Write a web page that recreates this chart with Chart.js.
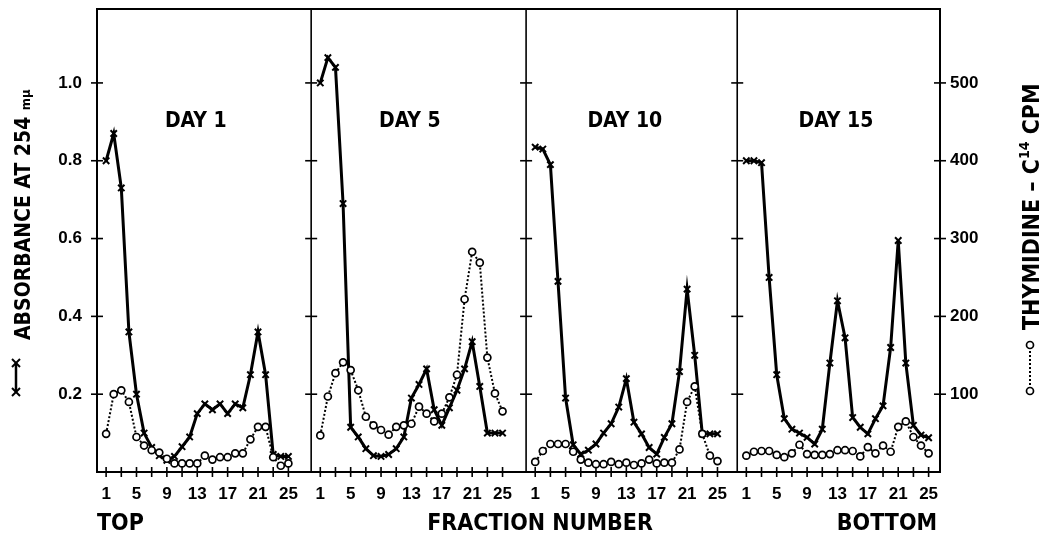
<!DOCTYPE html>
<html>
<head>
<meta charset="utf-8">
<script src="https://cdn.jsdelivr.net/npm/chart.js@4.4.0/dist/chart.umd.min.js"></script>
<style>
  html, body { margin: 0; padding: 0; background: #fff; }
  #graph { display: block; }
</style>
</head>
<body>
<canvas id="graph" width="1043" height="535"></canvas>
<script>
// fraction numbers (top -> bottom of the gradient)
const fractions = [1, 2, 3, 4, 5, 6, 7, 8, 9, 10, 11, 12, 13, 14, 15, 16, 17, 18, 19, 20, 21, 22, 23, 24, 25];
const dayLabels = ["DAY 1", "DAY 5", "DAY 10", "DAY 15"];

// absorbance at 254 mu (x---x)
const absDay1 = [0.80, 0.87, 0.73, 0.36, 0.20, 0.10, 0.063, 0.042, 0.03, 0.04, 0.065, 0.09, 0.15, 0.175, 0.16, 0.175, 0.15, 0.175, 0.165, 0.25, 0.36, 0.25, 0.045, 0.04, 0.04];
const absDay5 = [1.00, 1.065, 1.04, 0.69, 0.115, 0.09, 0.06, 0.042, 0.04, 0.045, 0.06, 0.09, 0.19, 0.225, 0.265, 0.16, 0.12, 0.165, 0.21, 0.265, 0.335, 0.22, 0.10, 0.10, 0.10];
const absDay10 = [0.835, 0.83, 0.79, 0.49, 0.19, 0.07, 0.046, 0.056, 0.072, 0.10, 0.124, 0.167, 0.24, 0.128, 0.098, 0.063, 0.046, 0.089, 0.124, 0.258, 0.47, 0.30, 0.098, 0.098, 0.098];
const absDay15 = [0.80, 0.80, 0.795, 0.50, 0.25, 0.137, 0.11, 0.10, 0.089, 0.072, 0.11, 0.28, 0.44, 0.345, 0.14, 0.115, 0.098, 0.137, 0.17, 0.32, 0.595, 0.28, 0.12, 0.095, 0.088];

// thymidine-C14 counts per minute (o....o)
const cpmDay1 = [49, 100, 105, 90, 45, 34, 28, 25, 17, 11, 11, 11, 11, 21, 16, 19, 19, 24, 24, 42, 58, 58, 19, 8, 11];
const cpmDay5 = [47, 97, 127, 141, 131, 105, 71, 60, 54, 48, 58, 60, 62, 84, 75, 65, 75, 96, 125, 222, 283, 269, 147, 101, 78];
const cpmDay10 = [13, 27, 36, 36, 36, 26, 16, 12, 10, 10, 13, 10, 12, 9, 11, 16, 11, 12, 12, 29, 90, 110, 49, 21, 14];
const cpmDay15 = [21, 26, 27, 27, 22, 19, 24, 35, 23, 22, 22, 23, 28, 28, 27, 20, 32, 24, 34, 26, 58, 65, 45, 34, 24];

// axis ticks
const absTicks = [0.2, 0.4, 0.6, 0.8, 1.0];
const cpmTicks = [100, 200, 300, 400, 500];
const fractionTickLabels = [1, 5, 9, 13, 17, 21, 25];

// each panel gets its own stretch of one shared x scale
const panelStart = [0, 28.2, 56.5, 84.3];
const panelEnd = 111;
const fracOffset = 0.2;

const letterFont = '"Liberation Sans Narrow", "DejaVu Sans Condensed", sans-serif';
const numberFont = '"Liberation Sans", "DejaVu Sans", sans-serif';

const absSeries = [absDay1, absDay5, absDay10, absDay15];
const cpmSeries = [cpmDay1, cpmDay5, cpmDay10, cpmDay15];

const datasets = [];
cpmSeries.forEach((vals, p) => {
  datasets.push({
    label: "Thymidine-C14 CPM " + dayLabels[p],
    yAxisID: "y2",
    data: fractions.map((f, i) => ({ x: panelStart[p] + f + fracOffset, y: vals[i] })),
    borderColor: "#000",
    borderWidth: 2,
    borderDash: [2, 2],
    pointStyle: "circle",
    pointRadius: 3.5,
    pointBackgroundColor: "#fff",
    pointBorderColor: "#000",
    pointBorderWidth: 1.7,
    tension: 0
  });
});
absSeries.forEach((vals, p) => {
  datasets.push({
    label: "Absorbance " + dayLabels[p],
    yAxisID: "y",
    data: fractions.map((f, i) => ({ x: panelStart[p] + f + fracOffset, y: vals[i] })),
    borderColor: "#000",
    borderWidth: 3,
    pointStyle: "crossRot",
    pointRadius: 4.5,
    pointBorderColor: "#000",
    pointBorderWidth: 2,
    tension: 0
  });
});

function line(ctx, x1, y1, x2, y2) {
  ctx.beginPath();
  ctx.moveTo(x1, y1);
  ctx.lineTo(x2, y2);
  ctx.stroke();
}

// draws text runs along an upward reading line starting at (x, y)
function upwardText(ctx, runs, x, y) {
  ctx.save();
  ctx.translate(x, y);
  ctx.rotate(-Math.PI / 2);
  ctx.textAlign = "left";
  ctx.textBaseline = "alphabetic";
  let pos = 0;
  runs.forEach(r => {
    ctx.font = r.font;
    ctx.fillText(r.text, pos, r.dy || 0);
    pos += ctx.measureText(r.text).width;
  });
  ctx.restore();
}

// axis fit: fixed widths, no extra label padding at the ends
function fixWidth(w) {
  return scale => {
    scale.width = w;
    scale.paddingTop = 0;
    scale.paddingBottom = 0;
  };
}

const paperPlugin = {
  id: "paper",
  afterDraw(chart) {
    const ctx = chart.ctx;
    const area = chart.chartArea;
    const xs = chart.scales.x;
    const ys = chart.scales.y;
    ctx.save();
    ctx.strokeStyle = "#000";
    ctx.fillStyle = "#000";

    // frame and panel dividers
    ctx.lineWidth = 2;
    ctx.strokeRect(area.left, area.top, area.right - area.left, area.bottom - area.top);
    const edges = panelStart.slice(1).map(v => xs.getPixelForValue(v));
    ctx.lineWidth = 1.6;
    edges.forEach(px => line(ctx, px, area.top, px, area.bottom));

    // tick marks crossing the frame
    const tickXs = [area.left, ...edges, area.right];
    absTicks.forEach(v => {
      const py = ys.getPixelForValue(v);
      tickXs.forEach(px => line(ctx, px - 6, py, px + 6, py));
    });
    xs.ticks.forEach(t => {
      const px = xs.getPixelForValue(t.value);
      line(ctx, px, area.bottom - 5, px, area.bottom + 5);
    });

    // day labels
    ctx.font = "bold 21px " + letterFont;
    ctx.textAlign = "center";
    ctx.textBaseline = "middle";
    dayLabels.forEach((d, p) => {
      ctx.fillText(d, xs.getPixelForValue(panelStart[p] + 13), ys.getPixelForValue(0.9));
    });

    // bottom captions
    ctx.font = "bold 23px " + letterFont;
    ctx.textBaseline = "alphabetic";
    ctx.textAlign = "left";
    ctx.fillText("TOP", area.left, 530);
    ctx.textAlign = "center";
    ctx.fillText("FRACTION NUMBER", 540, 530);
    ctx.fillText("BOTTOM", 887, 530);

    // left axis title with its symbol
    const big = "bold 21px " + letterFont;
    upwardText(ctx, [
      { text: "ABSORBANCE AT 254 ", font: big },
      { text: "m\u03bc", font: "bold 13px " + letterFont }
    ], 30, 340);
    ctx.lineWidth = 2.5;
    line(ctx, 16, 363, 16, 392);
    ctx.lineWidth = 2;
    [363, 392].forEach(py => {
      line(ctx, 12, py - 4, 20, py + 4);
      line(ctx, 12, py + 4, 20, py - 4);
    });

    // right axis title with its symbol
    const bigRight = "bold 23px " + letterFont;
    upwardText(ctx, [
      { text: "THYMIDINE \u2013 C", font: bigRight },
      { text: "14", font: "bold 14px " + letterFont, dy: -10 },
      { text: " CPM", font: bigRight }
    ], 1039, 330);
    ctx.lineWidth = 2;
    ctx.setLineDash([2, 2]);
    line(ctx, 1030, 347, 1030, 389);
    ctx.setLineDash([]);
    ctx.lineWidth = 1.7;
    [345, 391].forEach(py => {
      ctx.beginPath();
      ctx.arc(1030, py, 3.5, 0, Math.PI * 2);
      ctx.fillStyle = "#fff";
      ctx.fill();
      ctx.stroke();
    });
    ctx.restore();
  }
};

const ctx = document.getElementById("graph").getContext("2d");
const chart = new Chart(ctx, {
  type: "line",
  data: { datasets: datasets },
  options: {
    responsive: false,
    animation: false,
    layout: { padding: { top: 9, left: 0, right: 0, bottom: 0 } },
    plugins: {
      legend: { display: false },
      tooltip: { enabled: false }
    },
    scales: {
      x: {
        type: "linear",
        min: 0,
        max: panelEnd,
        grid: { display: false, drawTicks: false },
        border: { display: false },
        afterBuildTicks: scale => {
          const t = [];
          panelStart.forEach(p0 => {
            fractions.filter(f => f % 2 === 1).forEach(f => t.push({ value: p0 + f + fracOffset }));
          });
          scale.ticks = t;
        },
        ticks: {
          autoSkip: false,
          maxRotation: 0,
          padding: 12,
          color: "#000",
          font: { family: numberFont, size: 17, weight: "bold" },
          callback: (value, index) => {
            const f = 1 + 2 * (index % 13);
            return fractionTickLabels.includes(f) ? String(f) : "";
          }
        },
        afterFit: scale => { scale.height = 63; }
      },
      y: {
        position: "left",
        min: 0,
        max: 1.19,
        grid: { display: false, drawTicks: false },
        border: { display: false },
        afterBuildTicks: scale => { scale.ticks = absTicks.map(v => ({ value: v })); },
        ticks: {
          padding: 15,
          color: "#000",
          font: { family: numberFont, size: 17, weight: "bold" },
          callback: v => v.toFixed(1)
        },
        afterFit: fixWidth(97)
      },
      y2: {
        position: "right",
        min: 0,
        max: 595,
        grid: { display: false, drawTicks: false },
        border: { display: false },
        afterBuildTicks: scale => { scale.ticks = cpmTicks.map(v => ({ value: v })); },
        ticks: {
          padding: 10,
          color: "#000",
          font: { family: numberFont, size: 17, weight: "bold" },
          callback: v => String(v)
        },
        afterFit: fixWidth(103)
      }
    }
  },
  plugins: [paperPlugin]
});
</script>
</body>
</html>
